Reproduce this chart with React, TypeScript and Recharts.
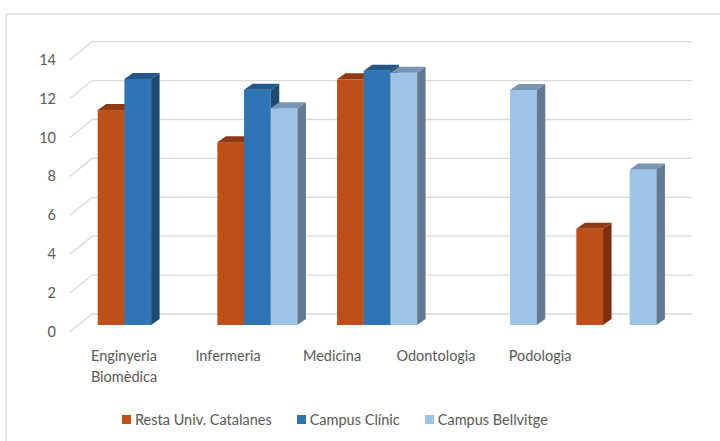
import React from 'react';
import { BarChart, Bar, XAxis, YAxis, CartesianGrid, Legend, Text } from 'recharts';

const categories = ['Enginyeria Biomèdica', 'Infermeria', 'Medicina', 'Odontologia', 'Podologia'];
const restaUniv = [11.05, 9.4, 12.63, null, 4.95];
const campusClinic = [12.65, 12.1, 13.07, null, null];
const campusBellvitge = [null, 11.15, 12.97, 12.08, 8.0];
const yTicks = [0, 2, 4, 6, 8, 10, 12, 14];

const series = [
  { key: 'resta', name: 'Resta Univ. Catalanes', front: '#BF4F19', top: '#8F3A12', side: '#7A3010' },
  { key: 'clinic', name: 'Campus Clínic', front: '#2E75B6', top: '#21578A', side: '#1F4A72' },
  { key: 'bellvitge', name: 'Campus Bellvitge', front: '#9DC3E6', top: '#7896B4', side: '#637B92' },
];

const data = categories.map((name, i) => ({
  name,
  resta: restaUniv[i],
  clinic: campusClinic[i],
  bellvitge: campusBellvitge[i],
}));

const FONT = 'Lato, "Open Sans", sans-serif';
const TEXT = '#595959';
const DX = 8.5;
const DY = -6;

function Box3D(props: any) {
  const { x, y, width, height, value, colors } = props;
  if (value == null || !height) return null;
  const b = y + height;
  return (
    <g>
      <rect x={x} y={y} width={width} height={height} fill={colors.front} />
      <polygon
        points={`${x},${y} ${x + DX},${y + DY} ${x + width + DX},${y + DY} ${x + width},${y}`}
        fill={colors.top}
      />
      <polygon
        points={`${x + width},${y} ${x + width + DX},${y + DY} ${x + width + DX},${b + DY} ${x + width},${b}`}
        fill={colors.side}
      />
    </g>
  );
}

function GridLine(props: any) {
  const y = props.y1;
  return (
    <polyline
      key={props.key}
      points={`70,${y + 7} 92,${y - 11} 692,${y - 11}`}
      fill="none"
      stroke="#D9D9D9"
      strokeWidth={1.3}
    />
  );
}

function YTick(props: any) {
  const { y, payload } = props;
  return (
    <text x={56} y={y + 12} textAnchor="end" fill={TEXT} fontSize={14.5} fontFamily={FONT}>
      {payload.value}
    </text>
  );
}

function XTick(props: any) {
  const { x, payload } = props;
  const lx = 124 + ((x - 137.5) * 104) / 119.66;
  return (
    <Text
      x={lx}
      y={351}
      width={95}
      textAnchor="middle"
      verticalAnchor="start"
      lineHeight={21}
      fill={TEXT}
      fontSize={14.5}
      fontFamily={FONT}
    >
      {payload.value}
    </Text>
  );
}

function LegendContent() {
  return (
    <div style={{ display: 'flex', alignItems: 'center', marginLeft: 122, fontFamily: FONT, fontSize: 14.5, color: TEXT }}>
      {series.map((s) => (
        <div key={s.key} style={{ display: 'flex', alignItems: 'center', marginRight: 25 }}>
          <span style={{ width: 9, height: 9, background: s.front, display: 'inline-block', marginRight: 4 }} />
          <span>{s.name}</span>
        </div>
      ))}
    </div>
  );
}

export default function App() {
  return (
    <div style={{ position: 'absolute', left: 0, top: 0, width: 720, height: 441, background: '#fff' }}>
      <svg width={720} height={441} style={{ position: 'absolute', left: 0, top: 0 }}>
        <rect x={6} y={14} width={730} height={450} fill="none" stroke="#D9D9D9" strokeWidth={1.3} />
      </svg>
      <BarChart
        width={720}
        height={441}
        data={data}
        margin={{ top: 52.7, right: 44, bottom: 56, left: 0 }}
        barGap={0}
        barSize={26.7}
        style={{ position: 'absolute', left: 0, top: 0 }}
      >
        <CartesianGrid vertical={false} horizontal={GridLine} />
        <XAxis dataKey="name" axisLine={false} tickLine={false} height={43} interval={0} tick={<XTick />} />
        <YAxis
          domain={[0, 14]}
          ticks={yTicks}
          axisLine={false}
          tickLine={false}
          width={77.7}
          tick={<YTick />}
        />
        {series.map((s) => (
          <Bar
            key={s.key}
            dataKey={s.key}
            name={s.name}
            fill={s.front}
            isAnimationActive={false}
            shape={(p: any) => <Box3D {...p} colors={s} />}
          />
        ))}
        <Legend
          content={<LegendContent />}
          wrapperStyle={{ position: 'absolute', left: 0, top: 411, width: 720 }}
        />
      </BarChart>
    </div>
  );
}
